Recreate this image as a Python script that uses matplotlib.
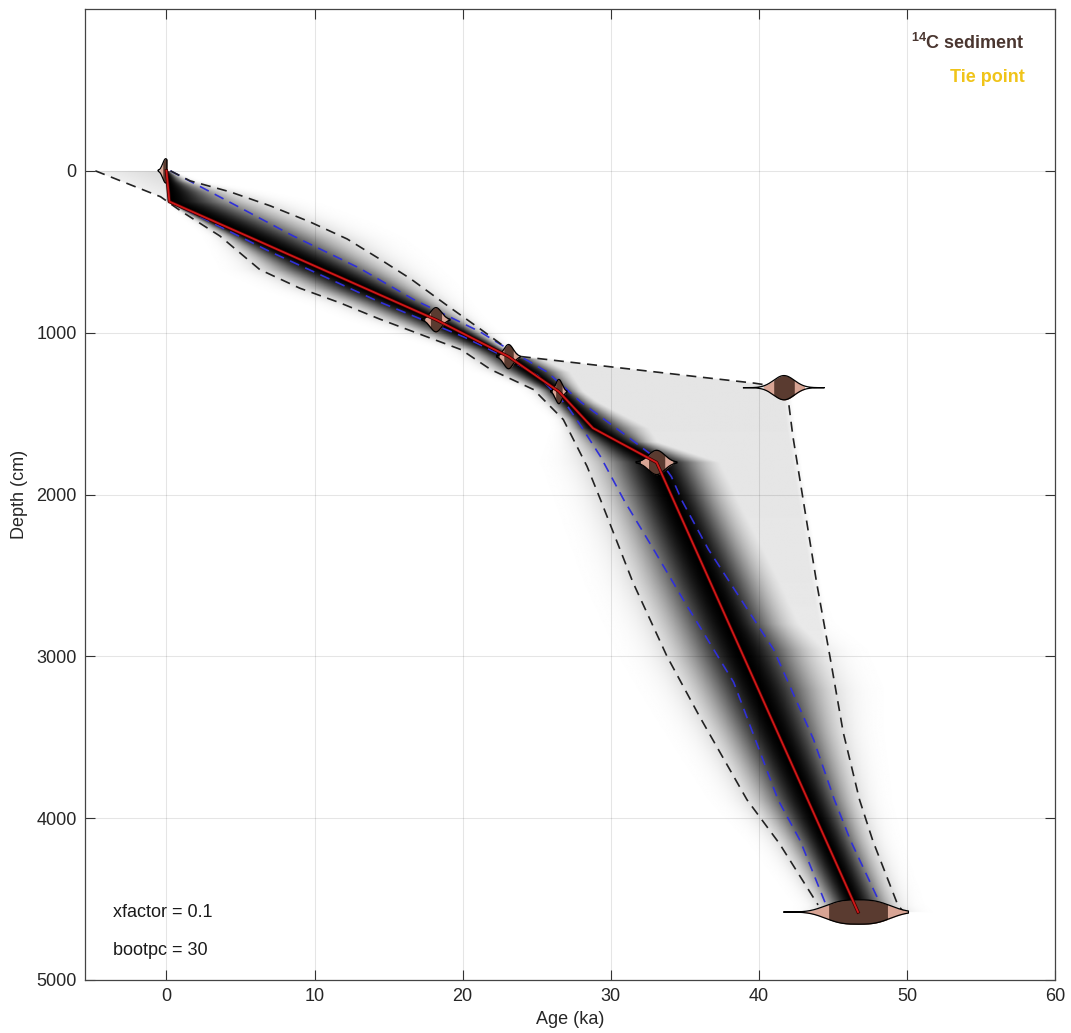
import numpy as np
import matplotlib
matplotlib.use('Agg')
import matplotlib.pyplot as plt
import matplotlib.patheffects as pe

plt.rcParams['font.family'] = ['Liberation Sans', 'DejaVu Sans']
plt.rcParams['mathtext.fontset'] = 'custom'
plt.rcParams['mathtext.rm'] = 'Liberation Sans'
plt.rcParams['mathtext.bf'] = 'Liberation Sans:bold'

# median age model (red)
med_depth = [0, 190, 920, 1148, 1364, 1590, 1802, 4580]
med_age = [0.0, 0.2, 18.2, 23.1, 26.5, 28.8, 33.1, 46.7]

# 1 sigma range (blue dashed)
blue_lo_depth = [192, 500, 811, 917, 1027, 1130, 1266, 1457, 1578, 1764, 2036, 2340, 2650, 3160, 3886, 4140, 4550]
blue_lo_age = [0.27, 7.0, 14.4, 17.2, 20.1, 22.4, 25.1, 27.1, 28.0, 29.3, 30.9, 32.9, 34.9, 38.3, 41.3, 42.8, 44.6]
blue_hi_depth = [0, 195, 400, 600, 796, 897, 996, 1120, 1243, 1430, 1640, 1800, 1890, 2036, 2340, 2958, 3515, 3886, 4140, 4530]
blue_hi_age = [0.27, 4.3, 8.5, 13.0, 16.7, 19.0, 21.2, 23.4, 25.7, 28.0, 31.1, 33.4, 34.1, 34.8, 36.6, 41.0, 43.7, 45.1, 46.2, 48.2]

# 2 sigma range (black dashed)
black_lo_depth = [0, 160, 247, 402, 610, 725, 815, 916, 1105, 1228, 1352, 1537, 1826, 2030, 2543, 3000, 3372, 3886, 4158, 4536]
black_lo_age = [-4.8, -0.4, 0.95, 3.6, 6.3, 9.0, 11.7, 14.4, 19.9, 21.9, 24.8, 26.8, 28.4, 29.3, 31.5, 33.8, 36.0, 39.2, 41.4, 44.0]
black_hi_depth = [0, 62, 130, 216, 316, 421, 545, 668, 835, 978, 1145, 1274, 1312, 1340, 1424, 1640, 2036, 2543, 3000, 3470, 3886, 4140, 4540, 4580]
black_hi_age = [0.27, 1.6, 4.3, 7.0, 9.7, 12.2, 14.4, 16.5, 19.0, 21.2, 23.7, 36.0, 39.7, 41.7, 42.0, 42.3, 43.0, 43.9, 44.8, 45.7, 46.8, 47.7, 49.4, 49.8]

# 14C dates: calibrated age (ka), depth (cm), sigma (ka), range (sigmas), upper age limit
date_age = [-0.05, 18.2, 23.1, 26.5, 33.1, 41.7, 46.7]
date_depth = [0, 920, 1148, 1364, 1802, 1340, 4580]
date_sigma = [0.2, 0.38, 0.32, 0.22, 0.55, 0.7, 2.0]
date_range = [2.5, 2.5, 2.5, 2.5, 2.5, 3.9, 2.5]
date_maxage = [0.03, 99, 99, 99, 99, 99, 50.1]
date_shape = [2, 2, 2, 2, 2, 2, 3]

xfactor = 0.1
bootpc = 30

fig = plt.figure(figsize=(10.71, 10.33), dpi=100)
ax = fig.add_axes([85 / 1071, 53 / 1033, 970 / 1071, 971 / 1033])

# probability shading, widths taken from the dashed ranges
xs = np.linspace(-5.5, 60, 1100)
ds = np.linspace(-1000, 5000, 1300)
m = np.interp(ds, med_depth, med_age)
bh = np.interp(ds, blue_hi_depth, blue_hi_age)
kl = np.interp(ds, black_lo_depth, black_lo_age)
kh = np.interp(ds, black_hi_depth, black_hi_age)
sig_l = np.where(ds < 192, 0.1, np.maximum(m - kl, 0.3) / 1.95)
sig_r = np.minimum(np.maximum(kh - m, 0.3) / 1.95, np.maximum(0.85 * sig_l, (bh - m) * 1.2))
sig_r = np.maximum(sig_r, 0.2)
X = xs[None, :]
M = m[:, None]
z = np.where(X < M, (X - M) / sig_l[:, None], (X - M) / sig_r[:, None])
dens = np.exp(-0.5 * (1.05 * z) ** 2)
pv = np.interp(ds, [1148, 2500, 4580], [0.105, 0.095, 0.04])
edge = np.clip((kh[:, None] - X) / 0.6 + 0.5, 0, 1)
plat = np.where((ds[:, None] >= 1148) & (X >= M - 0.3), pv[:, None] * edge, 0)
wedge = np.clip((X - kl[:, None]) / 6.0, 0, 1) * 0.12 + 0.06
wedge = np.where((ds[:, None] < 190) & (X >= kl[:, None]) & (X <= M + 0.05), wedge, 0)
val = np.maximum(np.maximum(dens, plat), wedge)
val[(ds < 0) | (ds > 4580), :] = 0
ax.imshow(val, extent=[xs[0], xs[-1], ds[-1], ds[0]], origin='upper', aspect='auto',
          cmap='gray_r', vmin=0, vmax=1, interpolation='bilinear', zorder=0)

ax.grid(True, color='k', alpha=0.1, lw=0.8, zorder=1)

dash = (0, (6, 4))
ax.plot(blue_lo_age, blue_lo_depth, color='#3030d8', lw=1.2, ls=dash, zorder=2)
ax.plot(blue_hi_age, blue_hi_depth, color='#3030d8', lw=1.2, ls=dash, zorder=2)
ax.plot(black_lo_age, black_lo_depth, color='#222222', lw=1.2, ls=dash, zorder=2)
ax.plot(black_hi_age, black_hi_depth, color='#222222', lw=1.2, ls=dash, zorder=2)

# date distributions
h = 75
for mu, dep, sg, rg, amax, p in zip(date_age, date_depth, date_sigma, date_range, date_maxage, date_shape):
    a = np.linspace(mu - rg * sg, min(mu + rg * sg, amax), 500)
    f = np.exp(-0.5 * np.abs((a - mu) / sg) ** p)
    zz = np.abs(a - mu) / sg
    ax.fill_between(a, dep - h * f, dep + h * f, where=zz <= 2.0, color='#d8a494', lw=0, zorder=4)
    ax.fill_between(a, dep - h * f, dep + h * f, where=zz <= 1.0, color='#5a3b30', lw=0, zorder=4)
    ax.plot(np.r_[a, a[::-1], a[0]], np.r_[dep - h * f, (dep + h * f)[::-1], dep - h * f[0]],
            color='k', lw=0.9, zorder=4)

ax.plot(med_age, med_depth, color='#d01818', lw=1.3, zorder=5,
        path_effects=[pe.Stroke(linewidth=2.4, foreground='#400000'), pe.Normal()])

ax.set_xlim(-5.5, 60)
ax.set_ylim(5000, -1000)
ax.set_xticks(range(0, 61, 10))
ax.set_yticks(range(0, 5001, 1000))
ax.tick_params(direction='in', length=7, width=0.8, colors='#333333', labelsize=13,
               top=True, right=True, labelcolor='#262626', pad=6)
for s in ax.spines.values():
    s.set_color('#444444')
    s.set_linewidth(0.9)
ax.set_xlabel('Age (ka)', fontsize=13, color='#262626', labelpad=4)
ax.set_ylabel('Depth (cm)', fontsize=13, color='#262626', labelpad=6)

ax.text(0.969, 0.965, r'$^{\mathbf{14}}$C sediment', transform=ax.transAxes, ha='right', va='center',
        fontsize=13, fontweight='bold', color='#4a3630')
ax.text(0.969, 0.929, 'Tie point', transform=ax.transAxes, ha='right', va='center',
        fontsize=13, fontweight='bold', color='#f0c419')
ax.text(0.029, 0.070, 'xfactor = %g' % xfactor, transform=ax.transAxes, va='center', fontsize=13, color='#1a1a1a')
ax.text(0.029, 0.030, 'bootpc = %d' % bootpc, transform=ax.transAxes, va='center', fontsize=13, color='#1a1a1a')

fig.savefig('out.png', dpi=100)
